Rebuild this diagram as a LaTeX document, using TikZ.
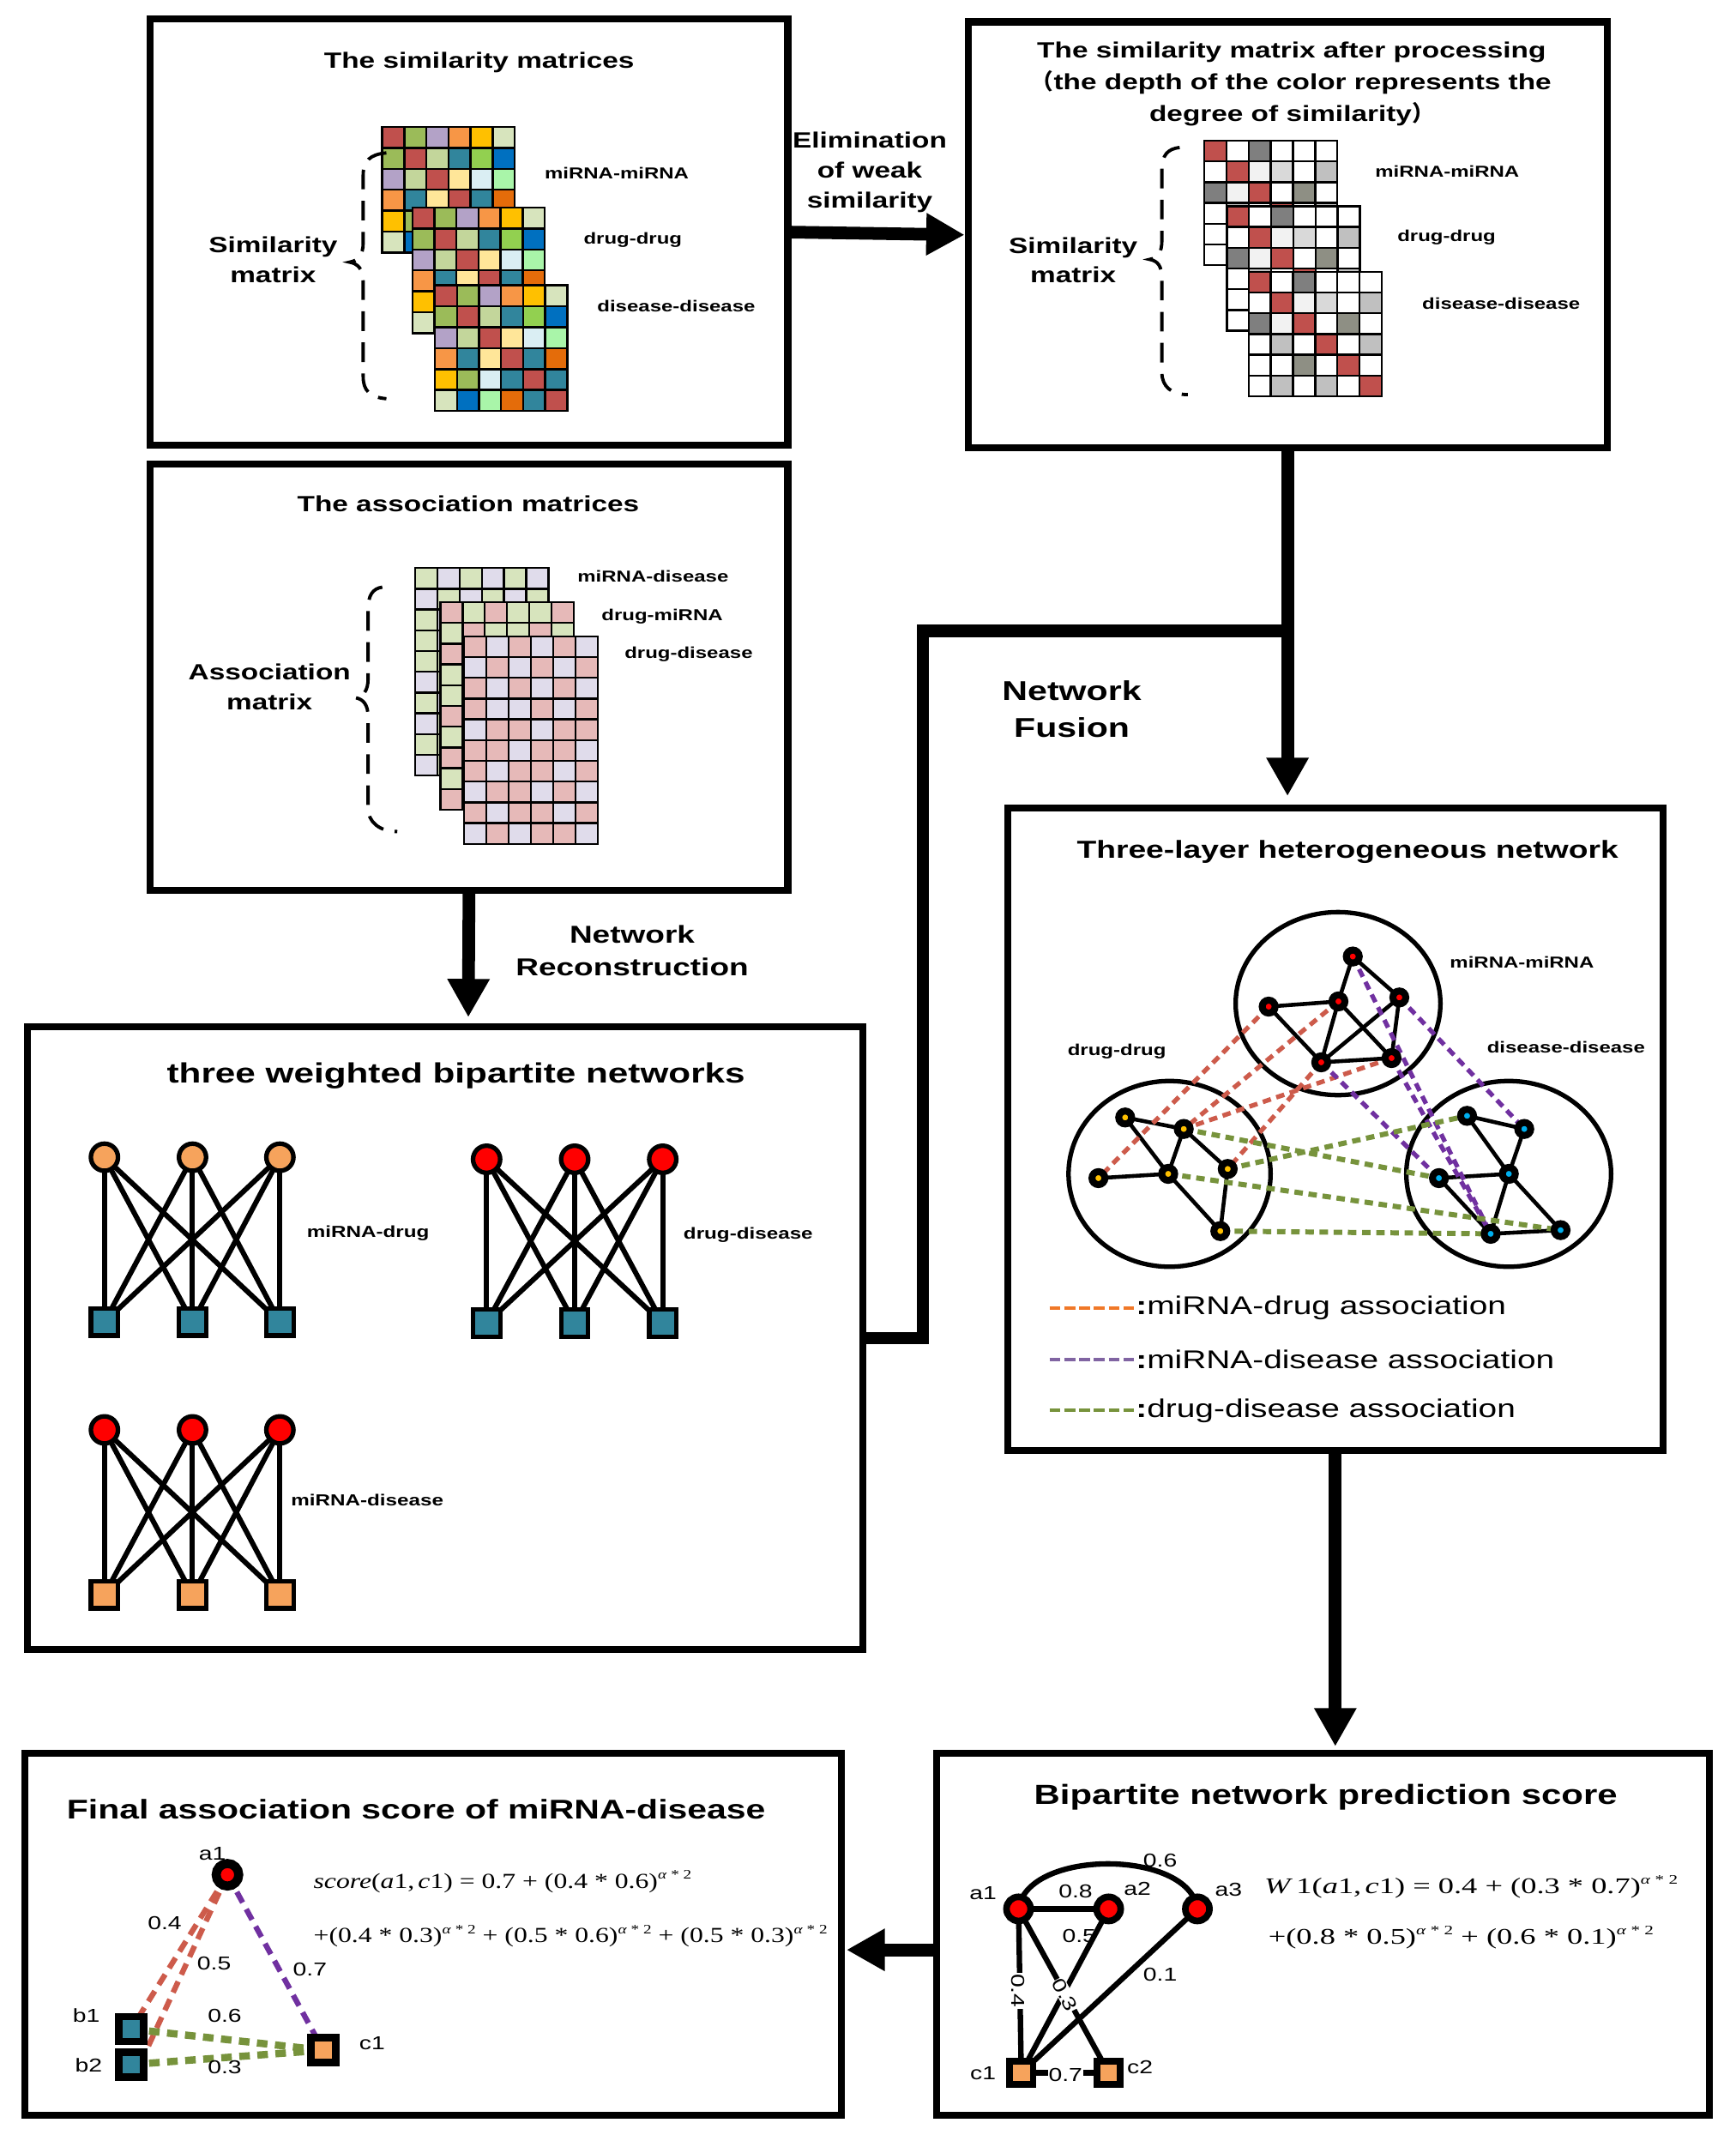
\documentclass[tikz,border=0pt]{standalone}
\usepackage{fontspec}
\newfontfamily\hs{Liberation Sans}[FakeStretch=1.3]
\newfontfamily\tm{Liberation Serif}[FakeStretch=1.4]
\newfontfamily\tmg{Liberation Serif}[FakeStretch=1.27]
\newfontfamily\cjk{Noto Sans CJK SC}
\usetikzlibrary{arrows.meta,fit}
\pgfdeclarelayer{back}
\pgfdeclarelayer{edges}
\pgfsetlayers{back,edges,main}
% similarity colours
\definecolor{cR}{HTML}{C0504D}\definecolor{cG}{HTML}{9BBB59}\definecolor{cL}{HTML}{B3A2C7}
\definecolor{cO}{HTML}{F79646}\definecolor{cY}{HTML}{FFC000}\definecolor{cLG}{HTML}{D7E4BD}
\definecolor{cLGb}{HTML}{C3D69B}\definecolor{cT}{HTML}{31859C}\definecolor{cLi}{HTML}{92D050}
\definecolor{cB}{HTML}{0070C0}\definecolor{cLY}{HTML}{FFE699}\definecolor{cLB}{HTML}{DAEEF3}
\definecolor{cPG}{HTML}{A9F5A9}\definecolor{cDO}{HTML}{E46C0A}
% processed colours
\definecolor{pW}{HTML}{FFFFFF}\definecolor{pR}{HTML}{C0504D}\definecolor{pD}{HTML}{7F7F7F}
\definecolor{pV}{HTML}{F2F2F2}\definecolor{pL}{HTML}{D9D9D9}\definecolor{pM}{HTML}{C0C0C0}
\definecolor{pQ}{HTML}{8E8F84}
% association colours
\definecolor{aG}{HTML}{D7E4BD}\definecolor{aL}{HTML}{E0DCEB}\definecolor{aP}{HTML}{E6B9B8}
% network colours
\definecolor{hR}{HTML}{CD5B4B}\definecolor{hP}{HTML}{7030A0}\definecolor{hG}{HTML}{77933C}
\definecolor{nY}{HTML}{FFC000}\definecolor{nC}{HTML}{00B0F0}\definecolor{nO}{HTML}{F6A35C}
\definecolor{nT}{HTML}{31859C}\definecolor{lO}{HTML}{F07828}\definecolor{lP}{HTML}{8064A2}
\newcommand\drawmat[5]{%
  \foreach \rl [count=\ri] in #5 {%
    \foreach \cc [count=\ci] in \rl {%
      \filldraw[fill=\cc, draw=black, line width=0.7pt]
        ({#1+(\ci-1)*#3},{#2+(\ri-1)*#4}) rectangle ++(#3,#4);
    }%
  }%
}
\def\simrows{{cR,cG,cL,cO,cY,cLG},{cG,cR,cLGb,cT,cLi,cB},{cL,cLGb,cR,cLY,cLB,cPG},{cO,cT,cLY,cR,cT,cDO},{cY,cG,cLB,cT,cR,cT},{cLG,cB,cPG,cDO,cT,cR}}
\def\prorows{{pR,pW,pD,pW,pW,pW},{pW,pR,pV,pL,pW,pM},{pD,pV,pR,pW,pQ,pW},{pW,pM,pW,pR,pW,pM},{pW,pW,pQ,pW,pR,pW},{pW,pM,pW,pM,pW,pR}}
\def\asone{{aG,aL,aG,aL,aG,aL},{aL,aG,aL,aG,aL,aG},{aG,aL,aG,aL,aG,aL},{aG,aL,aL,aG,aL,aG},{aG,aG,aL,aL,aG,aL},{aL,aG,aG,aL,aG,aG},{aG,aL,aG,aG,aL,aG},{aL,aG,aL,aG,aG,aL},{aG,aG,aL,aL,aG,aL},{aL,aG,aG,aL,aL,aG}}
\def\astwo{{aP,aG,aP,aG,aG,aP},{aG,aP,aG,aG,aP,aG},{aP,aG,aP,aG,aP,aG},{aG,aP,aG,aP,aG,aP},{aG,aP,aP,aG,aP,aG},{aP,aG,aP,aP,aG,aP},{aG,aP,aG,aP,aP,aG},{aP,aG,aP,aG,aP,aP},{aG,aP,aP,aG,aG,aP},{aP,aG,aP,aP,aG,aG}}
\def\asthree{{aP,aL,aP,aL,aP,aL},{aL,aP,aL,aP,aL,aP},{aP,aL,aP,aL,aP,aL},{aP,aL,aL,aP,aL,aP},{aL,aP,aP,aL,aP,aP},{aP,aP,aL,aP,aP,aL},{aP,aL,aP,aP,aL,aP},{aL,aP,aP,aL,aP,aL},{aP,aL,aP,aP,aL,aP},{aL,aP,aL,aP,aP,aL}}
\newcommand\supx[1]{\raisebox{0.9ex}{\fontsize{4.3}{5}\selectfont #1}}
\begin{document}
\begin{tikzpicture}[x=0.015917cm, y=-0.015917cm,
  box/.style={draw=black, line width=2.3pt, inner sep=0pt},
  tn/.style={inner sep=0pt, outer sep=0pt},
  ttl/.style={tn, font=\hs\bfseries\fontsize{7.3}{10.6}\selectfont, align=center},
  side/.style={tn, font=\hs\bfseries\fontsize{7.3}{9.9}\selectfont, align=center},
  lbl/.style={tn, font=\hs\bfseries\fontsize{5.25}{6}\selectfont},
  num/.style={tn, font=\hs\fontsize{6.2}{7}\selectfont},
  lgd/.style={tn, anchor=west, font=\hs\fontsize{8.5}{10}\selectfont},
  fml/.style={tn, anchor=west, font=\tm\fontsize{7.4}{9}\selectfont},
  fmlg/.style={tn, anchor=west, font=\tmg\fontsize{7.1}{9}\selectfont},
  brace/.style={line width=1.1pt, dash pattern=on 6.5pt off 3.8pt},
  bigarrow/.style={line width=4.2pt, -{Triangle[length=12.7pt,width=13.2pt]}},
  conn/.style={line width=4.2pt},
  hn/.style={circle, draw=black, line width=2.3pt, inner sep=0pt, minimum size=4.3pt},
  hedge/.style={line width=1.3pt},
  bc/.style={circle, draw=black, line width=1.5pt, inner sep=0pt, minimum size=9pt},
  bs/.style={rectangle, draw=black, line width=1.5pt, inner sep=0pt, minimum size=9pt},
  bedge/.style={line width=1.7pt},
  asr/.style={draw=hR, line width=1.5pt, dash pattern=on 2.8pt off 1.9pt},
  asp/.style={draw=hP, line width=1.5pt, dash pattern=on 2.8pt off 1.9pt},
  asg/.style={draw=hG, line width=1.7pt, dash pattern=on 2.8pt off 1.9pt},
  gsr/.style={draw=hR, line width=1.8pt, dash pattern=on 4pt off 2.5pt},
  gsp/.style={draw=hP, line width=1.8pt, dash pattern=on 4pt off 2.5pt},
  gsg/.style={draw=hG, line width=2.4pt, dash pattern=on 3.5pt off 2.5pt},
  fc/.style={circle, draw=black, line width=2.2pt, inner sep=0pt, minimum size=8pt, fill=red},
  fs/.style={rectangle, draw=black, line width=2.2pt, inner sep=0pt, minimum size=7.8pt},
  fedge/.style={line width=1.8pt}]
\begin{pgfonlayer}{back}
\fill[white] (0,0) rectangle (1271,1568);
\end{pgfonlayer}
\useasboundingbox (0,0) rectangle (1271,1568);

% ---------------- boxes
\node[box, fit={(110,14) (577,326)}] (A) {};
\node[box, fit={(709,16) (1177,328)}] (B) {};
\node[box, fit={(110,340) (577,652)}] (C) {};
\node[box, fit={(20,752) (632,1208)}] (D) {};
\node[box, fit={(738,592) (1218,1062)}] (E) {};
\node[box, fit={(686,1284) (1252,1549)}] (F) {};
\node[box, fit={(18,1284) (616,1549)}] (G) {};

% ---------------- box A
\node[ttl] (Atitle) at (351,46) {The similarity matrices};
\drawmat{280}{93}{16.17}{15.33}{\simrows}
\drawmat{302}{152}{16.17}{15.33}{\simrows}
\drawmat{318.5}{209}{16.17}{15.33}{\simrows}
\node[lbl] (Al1) at (451.7,126.7) {miRNA-miRNA};
\node[lbl] (Al2) at (463.5,176) {drug-drug};
\node[lbl] (Al3) at (495.3,224) {disease-disease};
\node[side] (Aside) at (200,190) {Similarity\\matrix};
\draw[brace] (283,112) .. controls (271,113) and (266,118) .. (266,128) -- (266,178)
  .. controls (266,187) and (262,191) .. (256,192) .. controls (262,193) and (266,197) .. (266,206)
  -- (266,276) .. controls (266,286) and (271,291) .. (283,292);

% ---------------- box B
\node[ttl] (Btitle) at (946,61.5) {The similarity matrix after processing\\{\cjk （}the depth of the color represents the\\degree of similarity{\cjk ）}};
\drawmat{882}{103}{16.25}{15.2}{\prorows}
\drawmat{898.5}{151}{16.25}{15.2}{\prorows}
\drawmat{914.5}{199}{16.25}{15.2}{\prorows}
\node[lbl] (Bl1) at (1060,125.7) {miRNA-miRNA};
\node[lbl] (Bl2) at (1059.5,173.8) {drug-drug};
\node[lbl] (Bl3) at (1099.5,222.5) {disease-disease};
\node[side] (Bside) at (786,190.5) {Similarity\\matrix};
\draw[brace] (864,108) .. controls (855,109) and (851,114) .. (851,124) -- (851,176)
  .. controls (851,185) and (848,189) .. (842,190) .. controls (848,191) and (851,195) .. (851,204)
  -- (851,273) .. controls (851,283) and (858,289) .. (870,289);

% ---------------- box C
\node[ttl] (Ctitle) at (343,369) {The association matrices};
\drawmat{304}{416}{16.3}{15.2}{\asone}
\drawmat{322.5}{441}{16.3}{15.2}{\astwo}
\drawmat{340}{466}{16.3}{15.2}{\asthree}
\node[lbl] (Cl1) at (478.3,422) {miRNA-disease};
\node[lbl] (Cl2) at (485,451.3) {drug-miRNA};
\node[lbl] (Cl3) at (504.4,479.2) {drug-disease};
\node[side] (Cside) at (197.4,503) {Association\\matrix};
\draw[brace] (280,430) .. controls (273,431) and (269.6,436) .. (269.6,446) -- (269.6,497)
  .. controls (269.6,506) and (266,510) .. (260.4,511) .. controls (266,512) and (269.6,516) .. (269.6,525)
  -- (269.6,592) .. controls (269.6,602) and (278,609) .. (291,609);

% ---------------- connectors between boxes
\coordinate (Etop) at (943,583);
\coordinate (J) at (943,462);
\coordinate (Dtop) at (343,745);
\coordinate (Ftop) at (978,1279);
\coordinate (Gin) at (620,1428);
\draw[bigarrow] (A.east) -- (B.west);
\draw[bigarrow] (B.south) -- (Etop);
\draw[conn] (D.east) -- (676,980) -- (676,462) -- (J);
\draw[bigarrow] (C.south) -- (Dtop);
\draw[bigarrow] (E.south) -- (Ftop);
\draw[bigarrow] (F.west |- Gin) -- (Gin);
\node[side] (elim) at (637,126) {Elimination\\of weak\\similarity};
\node[tn, font=\hs\bfseries\fontsize{8.1}{10.8}\selectfont, align=center] (recon) at (463,696) {Network\\Reconstruction};
\node[tn, font=\hs\bfseries\fontsize{9}{12.2}\selectfont, align=center] (fusion) at (785,519.5) {Network\\Fusion};

% ---------------- box D
\node[tn, font=\hs\bfseries\fontsize{9.25}{11}\selectfont] (Dtitle) at (334,788) {three weighted bipartite networks};
\foreach \x [count=\i] in {76.5,141,205} {
  \node[bc, fill=nO] (p\i) at (\x,847.5) {};
  \node[bs, fill=nT] (q\i) at (\x,968.2) {};
  \node[bc, fill=red] (u\i) at (\x,1047.2) {};
  \node[bs, fill=nO] (v\i) at (\x,1168) {};
}
\foreach \x [count=\i] in {356.4,420.9,485.4} {
  \node[bc, fill=red] (r\i) at (\x,849) {};
  \node[bs, fill=nT] (s\i) at (\x,969) {};
}
\begin{pgfonlayer}{edges}
\foreach \i in {1,2,3} {
  \foreach \j in {1,2,3} {
    \draw[bedge] (p\i.center) -- (q\j.center);
    \draw[bedge] (r\i.center) -- (s\j.center);
    \draw[bedge] (u\i.center) -- (v\j.center);
  }
}
\end{pgfonlayer}
\node[lbl, font=\hs\bfseries\fontsize{5.3}{6}\selectfont] (Dl1) at (269.6,903.2) {miRNA-drug};
\node[lbl, font=\hs\bfseries\fontsize{5.3}{6}\selectfont] (Dl2) at (548,904.7) {drug-disease};
\node[lbl, font=\hs\bfseries\fontsize{5.3}{6}\selectfont] (Dl3) at (269,1098.5) {miRNA-disease};

% ---------------- box E
\node[tn, font=\hs\bfseries\fontsize{8.15}{10}\selectfont] (Etitle) at (987,624) {Three-layer heterogeneous network};
\node[hn, fill=red] (m1) at (990.8,700.5) {};
\node[hn, fill=red] (m2) at (929.2,737.2) {};
\node[hn, fill=red] (m3) at (980.3,733.4) {};
\node[hn, fill=red] (m4) at (1024.9,730.5) {};
\node[hn, fill=red] (m5) at (967.7,778) {};
\node[hn, fill=red] (m6) at (1019.2,774.9) {};
\node[hn, fill=nY] (d1) at (824.1,818.4) {};
\node[hn, fill=nY] (d2) at (867,826.8) {};
\node[hn, fill=nY] (d3) at (804.5,862.8) {};
\node[hn, fill=nY] (d4) at (855.6,859.7) {};
\node[hn, fill=nY] (d5) at (899.2,856.1) {};
\node[hn, fill=nY] (d6) at (893.8,901.6) {};
\node[hn, fill=nC] (s1n) at (1074.5,817.2) {};
\node[hn, fill=nC] (s2n) at (1116.4,826.8) {};
\node[hn, fill=nC] (s3n) at (1053.9,862.8) {};
\node[hn, fill=nC] (s4n) at (1105.1,859.7) {};
\node[hn, fill=nC] (s5n) at (1091.8,903.6) {};
\node[hn, fill=nC] (s6n) at (1143,900.9) {};
\begin{pgfonlayer}{edges}
\draw[line width=1.5pt] (980,735) ellipse [x radius=75, y radius=67];
\draw[line width=1.5pt] (856.6,859.7) ellipse [x radius=74, y radius=68];
\draw[line width=1.5pt] (1105,859.7) ellipse [x radius=75, y radius=68];
\foreach \a/\b in {m1/m3,m1/m4,m2/m3,m2/m5,m3/m5,m3/m6,m4/m5,m4/m6,m5/m6,
                   d1/d2,d1/d4,d2/d4,d2/d5,d3/d4,d4/d6,d5/d6,
                   s1n/s2n,s1n/s4n,s2n/s4n,s3n/s4n,s3n/s5n,s4n/s5n,s4n/s6n,s5n/s6n}
  \draw[hedge] (\a.center) -- (\b.center);
\draw[asr] (m2.center) -- (d3.center);
\draw[asr] (m3.center) -- (d2.center);
\draw[asr] (m6.center) -- (d2.center);
\draw[asr] (m5.center) -- (d5.center);
\draw[asp] (m1.center) -- (s5n.center);
\draw[asp] (m6.center) -- (s5n.center);
\draw[asp] (m4.center) -- (s2n.center);
\draw[asp] (m5.center) -- (s3n.center);
\draw[asg] (d2.center) -- (s3n.center);
\draw[asg] (d5.center) -- (s1n.center);
\draw[asg] (d4.center) -- (s6n.center);
\draw[asg] (d6.center) -- (s5n.center);
\end{pgfonlayer}
\node[lbl] (El1) at (1114.7,704.7) {miRNA-miRNA};
\node[lbl] (El2) at (818,770.3) {drug-drug};
\node[lbl] (El3) at (1147,766.9) {disease-disease};
\draw[draw=lO, line width=1.2pt, dash pattern=on 3.6pt off 1.3pt] (768.7,958) -- (831,958);
\draw[draw=lP, line width=1.2pt, dash pattern=on 3.6pt off 1.3pt] (768.7,995.5) -- (831,995.5);
\draw[draw=hG, line width=1.2pt, dash pattern=on 3.6pt off 1.3pt] (768.7,1033) -- (831,1033);
\node[lgd] (lg1) at (832,958) {{\bfseries :}miRNA-drug association};
\node[lgd] (lg2) at (832,995.5) {{\bfseries :}miRNA-disease association};
\node[lgd] (lg3) at (832,1033) {{\bfseries :}drug-disease association};

% ---------------- box F
\node[tn, font=\hs\bfseries\fontsize{9.17}{11}\selectfont] (Ftitle) at (971,1316) {Bipartite network prediction score};
\node[fc] (fa1) at (746,1398) {};
\node[fc] (fa2) at (812,1398) {};
\node[fc] (fa3) at (877,1398) {};
\node[fs, fill=nO] (fc1) at (748,1518) {};
\node[fs, fill=nO] (fc2) at (812,1518) {};
\begin{pgfonlayer}{edges}
\draw[fedge] (fa1.center) -- (fa2.center);
\draw[fedge] (fa1.center) .. controls (752,1354) and (871,1354) .. (fa3.center);
\draw[fedge] (fa1.center) -- (fc1.center);
\draw[fedge] (fa1.center) -- (fc2.center);
\draw[fedge] (fa2.center) -- (fc1.center);
\draw[fedge] (fa3.center) -- (fc1.center);
\draw[fedge] (fc1.center) -- (fc2.center);
\end{pgfonlayer}
\node[num] (fla1) at (720,1386.4) {a1};
\node[num] (fla2) at (833,1383) {a2};
\node[num] (fla3) at (899.8,1384) {a3};
\node[num] (flc1) at (720,1518.3) {c1};
\node[num] (flc2) at (835,1514) {c2};
\node[num] (fw8) at (787.8,1385.3) {0.8};
\node[num] (fw6) at (849.7,1362.3) {0.6};
\node[num] (fw5) at (790.4,1417.8) {0.5};
\node[num] (fw1) at (849.7,1446) {0.1};
\node[num, fill=white, inner sep=0.3pt, rotate=-90] (fw4) at (745.5,1458) {0.4};
\node[num, fill=white, inner sep=0.2pt, rotate=-62] (fw3) at (780,1461) {0.3};
\node[num, fill=white, inner sep=0.3pt] (fw7) at (780.4,1519.4) {0.7};
\node[fml] (Ff1) at (926,1382) {\textit{W}\,1(\textit{a}1,\,\textit{c}1) = 0.4 + (0.3 * 0.7)\supx{\textit{α} * 2}};
\node[fml] (Ff2) at (929,1419) {+(0.8 * 0.5)\supx{\textit{α} * 2} + (0.6 * 0.1)\supx{\textit{α} * 2}};

% ---------------- box G
\node[tn, font=\hs\bfseries\fontsize{8.96}{11}\selectfont] (Gtitle) at (304.8,1325.2) {Final association score of miRNA-disease};
\node[circle, draw=black, line width=3pt, inner sep=0pt, minimum size=7.5pt, fill=red] (ga1) at (166.6,1373) {};
\node[rectangle, draw=black, line width=2.5pt, inner sep=0pt, minimum size=8.3pt, fill=nT] (gb1) at (96,1486) {};
\node[rectangle, draw=black, line width=2.5pt, inner sep=0pt, minimum size=8.3pt, fill=nT] (gb2) at (96,1512) {};
\node[rectangle, draw=black, line width=2.5pt, inner sep=0pt, minimum size=8.3pt, fill=nO] (gc1) at (236.8,1501.5) {};
\begin{pgfonlayer}{edges}
\draw[gsr] (ga1.center) -- (gb1.center);
\draw[gsr] (ga1.center) -- (gb2.north east);
\draw[gsp] (ga1.center) -- (gc1.center);
\draw[gsg] (gb1.center) -- (gc1.center);
\draw[gsg] (gb2.center) -- (gc1.center);
\end{pgfonlayer}
\node[num] (gla1) at (155.6,1357.9) {a1};
\node[num] (glb1) at (63.2,1476.2) {b1};
\node[num] (glb2) at (65,1512.7) {b2};
\node[num] (glc1) at (272.6,1496.2) {c1};
\node[num] (gw4) at (120.6,1408.6) {0.4};
\node[num] (gw5) at (156.8,1438.2) {0.5};
\node[num] (gw7) at (227,1442.3) {0.7};
\node[num] (gw6) at (164.6,1476.2) {0.6};
\node[num] (gw3) at (164.6,1514.2) {0.3};
\node[fmlg] (Gf1) at (229.7,1378) {\textit{score}(\textit{a}1,\,\textit{c}1) = 0.7 + (0.4 * 0.6)\supx{\textit{α} * 2}};
\node[fmlg] (Gf2) at (229.7,1418) {+(0.4 * 0.3)\supx{\textit{α} * 2} + (0.5 * 0.6)\supx{\textit{α} * 2} + (0.5 * 0.3)\supx{\textit{α} * 2}};
\end{tikzpicture}
\end{document}
